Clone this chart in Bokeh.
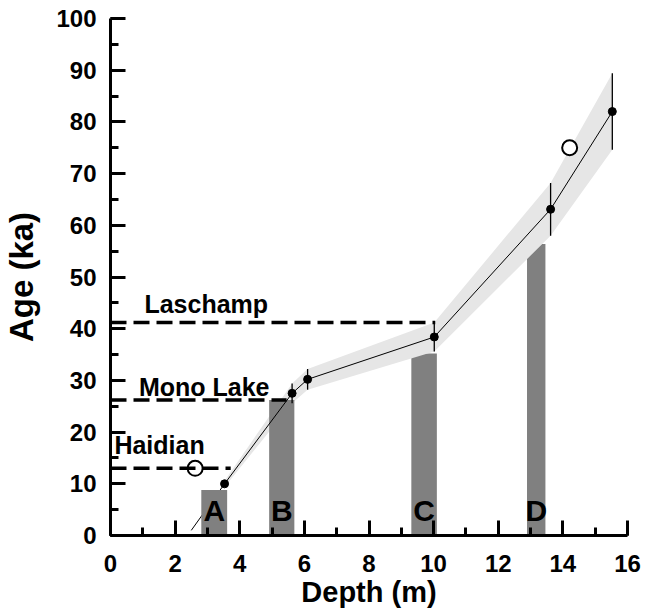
from bokeh.plotting import figure
from bokeh.models import Range1d, SingleIntervalTicker
from bokeh.core.properties import value
from bokeh.embed import file_html
from bokeh.resources import INLINE
import numpy as np

# ---- data ----
depth = [3.53, 5.62, 6.10, 10.02, 13.62, 15.53]          # m
age = [10.0, 27.5, 30.2, 38.4, 63.1, 82.0]               # ka
age_err = [0.6, 1.9, 2.0, 2.8, 5.1, 7.4]                 # ka
ext_depth = [2.50, 3.53]                                 # extrapolation of age model
ext_age = [1.0, 10.0]
open_depth = [2.62, 14.21]
open_age = [13.0, 75.0]
bar_names = ["A", "B", "C", "D"]
bar_left = [2.81, 4.91, 9.31, 12.89]
bar_right = [3.61, 5.69, 10.10, 13.46]
bar_top = [8.8, 26.2, 35.2, 56.4]
events = ["Haidian", "Mono Lake", "Laschamp"]
event_age = [13.0, 26.2, 41.2]
event_end = [3.72, 5.45, 10.05]
x_ticks_interval = 2
y_ticks_interval = 10

FONT = "Liberation Sans"

p = figure(frame_width=517, frame_height=517,
           x_range=Range1d(0, 16), y_range=Range1d(0, 100),
           output_backend="svg", toolbar_location=None,
           min_border_left=106, min_border_top=18, min_border_right=14,
           min_border_bottom=10)
p.styles = {"vertical-align": "top"}
p.outline_line_color = None
p.xgrid.visible = False
p.ygrid.visible = False
p.background_fill_color = "white"

p.xaxis.ticker = SingleIntervalTicker(interval=x_ticks_interval, num_minor_ticks=2)
p.yaxis.ticker = SingleIntervalTicker(interval=y_ticks_interval, num_minor_ticks=2)
p.xaxis.axis_label = "Depth (m)"
p.yaxis.axis_label = "Age (ka)"
for ax in (p.xaxis[0], p.yaxis[0]):
    ax.axis_line_width = 3
    ax.axis_line_color = "black"
    ax.major_tick_in = 15
    ax.major_tick_out = 0
    ax.minor_tick_in = 8
    ax.minor_tick_out = 0
    ax.major_tick_line_width = 3
    ax.minor_tick_line_width = 3
    ax.major_tick_line_color = "black"
    ax.minor_tick_line_color = "black"
    ax.major_label_text_font = FONT
    ax.major_label_text_font_style = "bold"
    ax.major_label_text_font_size = "24px"
    ax.major_label_text_color = "black"
    ax.major_label_text_line_height = 0.75
    ax.axis_label_text_font = FONT
    ax.axis_label_text_font_style = "bold"
    ax.axis_label_text_color = "black"
    ax.axis_label_text_line_height = 0.75
p.xaxis.axis_label_text_font_size = "29px"
p.yaxis.axis_label_text_font_size = "33px"
p.xaxis.major_label_standoff = 19
p.yaxis.major_label_standoff = 14
p.xaxis.axis_label_standoff = 1
p.yaxis.axis_label_standoff = 13

d = np.array(depth)
a = np.array(age)
e = np.array(age_err)

# extrapolated age-model line (hidden partly behind bar A)
p.line(ext_depth, ext_age, line_color="black", line_width=1)

# bars C, D lie beneath the uncertainty envelope
p.quad(left=bar_left[2:], right=bar_right[2:], bottom=0, top=bar_top[2:],
       fill_color="#808080", line_color=None)

# uncertainty envelope
p.varea(x=d, y1=a - e, y2=a + e, fill_color="#e6e6e6")

# bars A, B lie on top
p.quad(left=bar_left[:2], right=bar_right[:2], bottom=0, top=bar_top[:2],
       fill_color="#808080", line_color=None)

# open circles
p.scatter(open_depth, open_age, marker="circle", size=15,
          fill_color="white", line_color="black", line_width=2)

# event dashed lines
p.segment(x0=[0] * len(event_age), y0=event_age, x1=event_end, y1=event_age,
          line_color="black", line_width=3.5, line_dash="16 7")

# age model
p.line(d, a, line_color="black", line_width=1)
p.segment(x0=d, y0=a - e, x1=d, y1=a + e, line_color="black", line_width=1.3)
p.scatter(d, a, marker="circle", size=8, fill_color="black", line_color="black")

# event labels
label_depth = [0.12, 0.88, 1.05]
label_off = [-23, -13, -18]
for name, ag, lx, off in zip(events, event_age, label_depth, label_off):
    p.text(x=[lx], y=[ag], text=[name], text_font=value(FONT),
           text_font_style="bold", text_font_size="25px", text_color="black",
           text_align="left", text_baseline="alphabetic", y_offset=off)

# bar labels
bar_center = [(l + r) / 2 for l, r in zip(bar_left, bar_right)]
p.text(x=bar_center, y=[0] * len(bar_center), text=bar_names, text_font=value(FONT),
       text_font_style="bold", text_font_size="30px", text_color="black",
       text_align="center", text_baseline="alphabetic", y_offset=-25)

open("out.html", "w").write(file_html(p, INLINE))
